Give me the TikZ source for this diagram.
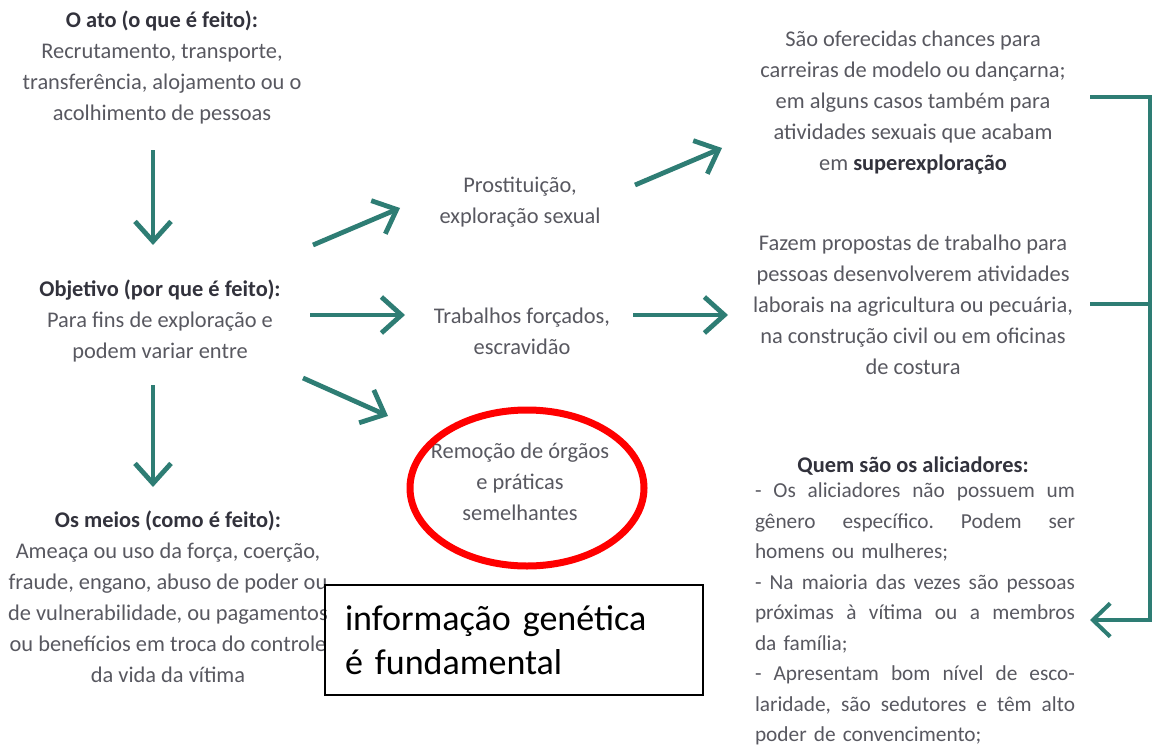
\documentclass[tikz,border=0pt]{standalone}
\usepackage{fontspec}
\usepackage{tikz}
\usetikzlibrary{arrows.meta}
\setmainfont{Carlito}
\newfontfamily\boxfont{Carlito}
\definecolor{tealarrow}{RGB}{46,125,116}
\definecolor{txtgray}{RGB}{88,88,96}
\definecolor{headgray}{RGB}{50,50,60}
\newcommand{\jline}[1]{\makebox[240pt][s]{\frenchspacing\spaceskip=0.25em plus 1fil\relax #1}}
\newcommand{\headline}[1]{{\color{headgray}\bfseries #1}}
\tikzset{every picture/.style={line width=0.75pt}}
\tikzset{
	txt/.style={text=txtgray, align=center, inner sep=0pt, font=\fontsize{16.8}{23.25}\selectfont},
	arr/.style={color=tealarrow, line width=3.6pt, -{Straight Barb[length=15pt,width=27pt]}},
	brk/.style={color=tealarrow, line width=3pt},
}

\begin{document}
\begin{tikzpicture}[x=0.75pt,y=0.75pt,yscale=-1,xscale=1]
		\useasboundingbox (0,0) rectangle (1153,749);
		\clip (0,0) rectangle (1153,749);
		
		%Text blocks, left column
		\node[txt] (ato) at (162,67) {\headline{O ato (o que é feito):}\\Recrutamento, transporte,\\transferência, alojamento ou o\\acolhimento de pessoas};
		\node[txt] (obj) at (160,321) {\headline{Objetivo (por que é feito):}\\Para fins de exploração e\\podem variar entre};
		\node[txt] (meios) at (168,597) {\headline{Os meios (como é feito):}\\Ameaça ou uso da força, coerção,\\fraude, engano, abuso de poder ou\\de vulnerabilidade, ou pagamentos\\ou benefícios em troca do controle\\da vida da vítima};
		
		%Text blocks, middle column
		\node[txt] (prost) at (520,202) {Prostituição,\\exploração sexual};
		\node[txt] (trab) at (522,331) {Trabalhos forçados,\\escravidão};
		\node[txt] (remo) at (520,482) {Remoção de órgãos\\e práticas\\semelhantes};
		
		%Text blocks, right column
		\node[txt] (sao) at (913,103) {São oferecidas chances para\\carreiras de modelo ou dançarna;\\em alguns casos também para\\atividades sexuais que acabam\\em \headline{superexploração}};
		\node[txt] (fazem) at (913,305) {Fazem propostas de trabalho para\\pessoas desenvolverem atividades\\laborais na agricultura ou pecuária,\\na construção civil ou em oficinas\\de costura};
		\node[txt] (quemt) at (913,466) {\headline{Quem são os aliciadores:}};
		\node[txt, text width=240pt, align=left, font=\fontsize{16}{22.9}\selectfont] (quem) at (915,614) {\jline{- Os aliciadores não possuem um}\\\jline{gênero específico. Podem ser}\\homens ou mulheres;\\\jline{- Na maioria das vezes são pessoas}\\\jline{próximas à vítima ou a membros}\\da família;\\\jline{- Apresentam bom nível de esco-}\\\jline{laridade, são sedutores e têm alto}\\poder de convencimento;};
		
		%Straight Lines, arrows
		\draw[arr] ([shift={(-9,83)}]ato.center) -- ([shift={(-7,-76)}]obj.center);
		\draw[arr] ([shift={(-7,64)}]obj.center) -- ([shift={(-15,-110)}]meios.center);
		\draw[arr] ([shift={(153,-76)}]obj.center) -- ([shift={(-120,6)}]prost.center);
		\draw[arr] ([shift={(150,-6)}]obj.center) -- ([shift={(-117,-16)}]trab.center);
		\draw[arr] ([shift={(143,57)}]obj.center) -- ([shift={(-132,-66)}]remo.center);
		\draw[arr] ([shift={(115,-17)}]prost.center) -- ([shift={(-191,45)}]sao.center);
		\draw[arr] ([shift={(111,-16)}]trab.center) -- ([shift={(-185,10)}]fazem.center);
		
		%Bracket on the right
		\draw[brk, -{Straight Barb[length=13pt,width=25pt]}] ([shift={(177,-6)}]sao.center) -- ++(60,0) coordinate (brkt) |- ([shift={(175,6)}]quem.center);
		\draw[brk] ([shift={(177,-1)}]fazem.center) -- ++(60,0);
		
		%Shape: Ellipse
		\draw[color=red, line width=5.25pt] ([shift={(7,6)}]remo.center) ellipse [x radius=87.75pt, y radius=58.5pt];
		
		%Shape: Rectangle
		\node[draw=black, line width=1.1pt, minimum width=283.5pt, minimum height=82.5pt, inner xsep=15pt, text width=253.5pt, align=left, font=\boxfont\fontsize{27}{33}\selectfont] (gen) at (514,640) {informação genética\\é fundamental};
		
\end{tikzpicture}
\end{document}
